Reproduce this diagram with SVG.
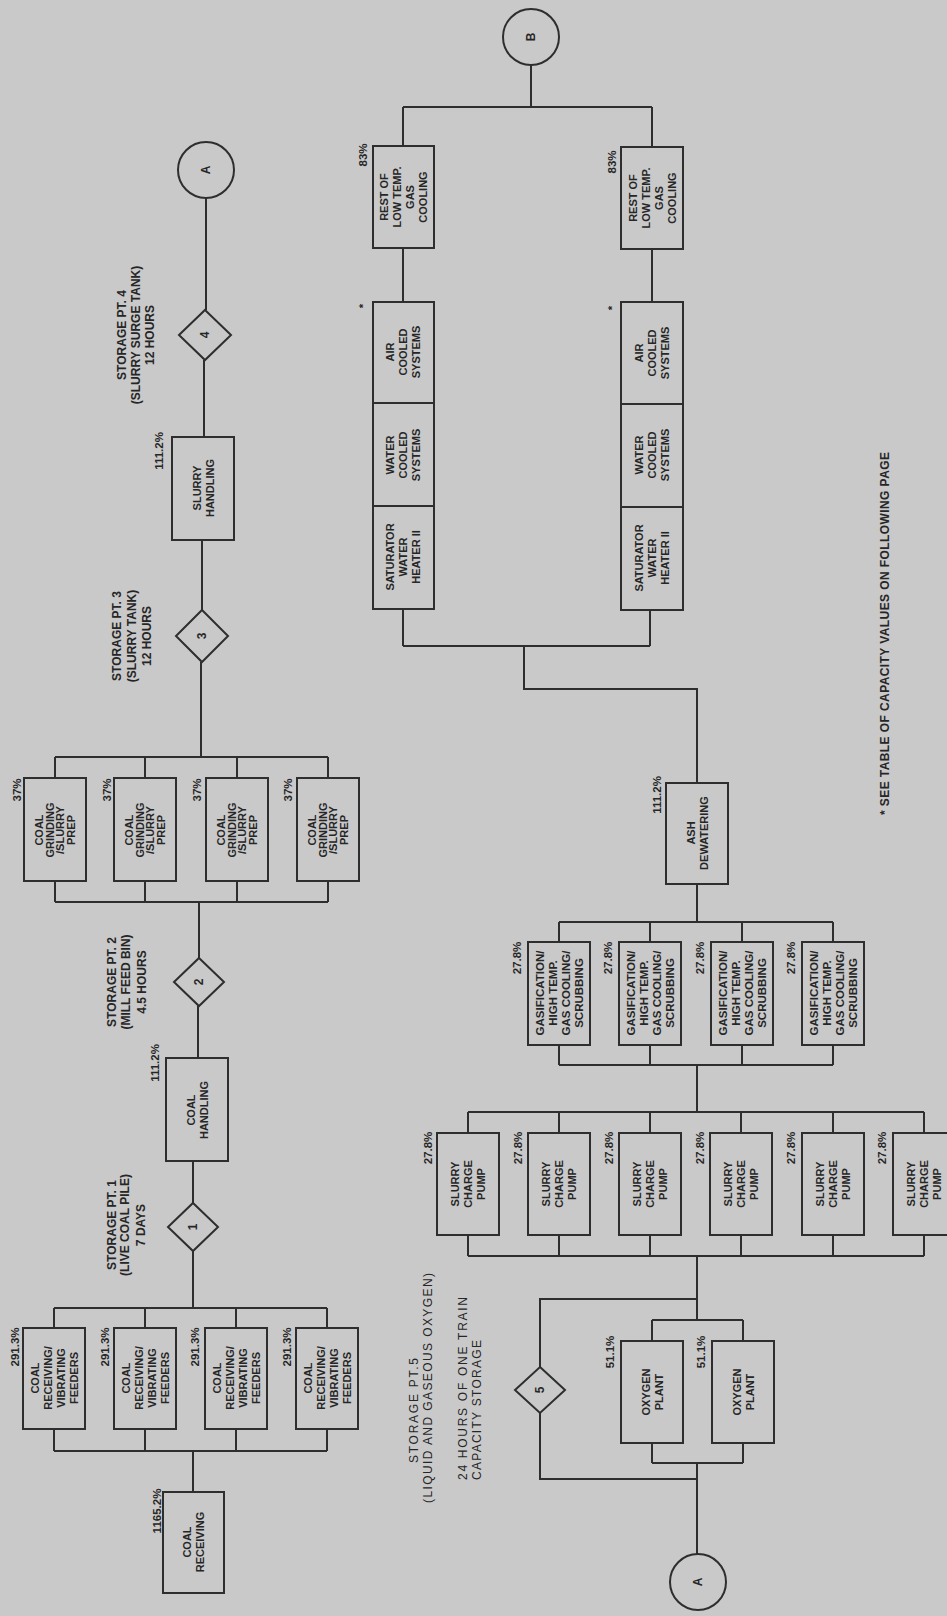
<svg xmlns="http://www.w3.org/2000/svg" width="947" height="1616" viewBox="0 0 947 1616">
<defs>
<style>
.bg{fill:#c9c9c9}
.box{fill:none;stroke:#2e2e2e;stroke-width:2}
.ln{fill:none;stroke:#2e2e2e;stroke-width:2}
text{font-family:"Liberation Sans",Arial,sans-serif;fill:#262626;text-anchor:middle;dominant-baseline:central;font-weight:bold}
.lb{font-size:11px}
.sm{font-size:11px}
.gs{font-size:11.5px}
.pc{font-size:11.5px}
.st{font-size:12px}
.ft{font-size:12px;text-anchor:start}
.lt{font-weight:normal}
.cn{font-size:12px}
</style>
</defs>
<rect class="bg" x="0" y="0" width="947" height="1616"/>

<g id="connectors">
<path class="ln" d="M193 1492V1451M54 1451H327M54 1429V1451M145 1429V1451M236 1429V1451M327 1429V1451"/>
<path class="ln" d="M54 1308H327M54 1328V1308M145 1328V1308M236 1328V1308M327 1328V1308M193 1308V1251"/>
<path class="ln" d="M193 1203V1161M198 1058V1006M199 958V902"/>
<path class="ln" d="M55 902H328M55 881V902M145 881V902M237 881V902M328 881V902"/>
<path class="ln" d="M55 757H328M55 778V757M145 778V757M237 778V757M328 778V757M201 757V662"/>
<path class="ln" d="M202 610V540M204 437V360M206 310V198"/>
<path class="ln" d="M531 65V107M403 107H652M403 107V146M652 107V147M403 248V302M652 249V302"/>
<path class="ln" d="M403 609V646M650 610V646M403 646H650M524 646V689H697V783"/>
<path class="ln" d="M697 884V922M559 922H833M559 922V942M650 922V942M742 922V942M833 922V942"/>
<path class="ln" d="M559 1065H833M559 1045V1065M650 1045V1065M742 1045V1065M833 1045V1065M697 1065V1112"/>
<path class="ln" d="M468 1112H924M468 1112V1133M559 1112V1133M650 1112V1133M741 1112V1133M833 1112V1133M924 1112V1133"/>
<path class="ln" d="M468 1256H924M468 1235V1256M559 1235V1256M650 1235V1256M741 1235V1256M833 1235V1256M924 1235V1256M697 1256V1320"/>
<path class="ln" d="M652 1320H743M652 1320V1341M743 1320V1341M652 1443V1463M743 1443V1463M652 1463H743M697 1463V1554"/>
<path class="ln" d="M697 1299H540V1367M540 1413V1479H697"/>
</g>

<g id="coal-receiving">
<rect class="box" x="163" y="1492" width="61" height="101"/>
<text class="lb" transform="translate(193.5,1542) rotate(-90)"><tspan x="0" y="-6.5">COAL</tspan><tspan x="0" y="6.5">RECEIVING</tspan></text>
<text class="pc" transform="translate(157,1511) rotate(-90)">1165.2%</text>
</g>

<g id="feeder-1">
<rect class="box" x="23" y="1328" width="62" height="101"/>
<text class="lb" transform="translate(54,1378) rotate(-90)"><tspan x="0" y="-19.5">COAL</tspan><tspan x="0" y="-6.5">RECEIVING/</tspan><tspan x="0" y="6.5">VIBRATING</tspan><tspan x="0" y="19.5">FEEDERS</tspan></text>
<text class="pc" transform="translate(15,1347) rotate(-90)">291.3%</text>
</g>
<g id="feeder-2">
<rect class="box" x="114" y="1328" width="62" height="101"/>
<text class="lb" transform="translate(145,1378) rotate(-90)"><tspan x="0" y="-19.5">COAL</tspan><tspan x="0" y="-6.5">RECEIVING/</tspan><tspan x="0" y="6.5">VIBRATING</tspan><tspan x="0" y="19.5">FEEDERS</tspan></text>
<text class="pc" transform="translate(105,1347) rotate(-90)">291.3%</text>
</g>
<g id="feeder-3">
<rect class="box" x="205" y="1328" width="62" height="101"/>
<text class="lb" transform="translate(236,1378) rotate(-90)"><tspan x="0" y="-19.5">COAL</tspan><tspan x="0" y="-6.5">RECEIVING/</tspan><tspan x="0" y="6.5">VIBRATING</tspan><tspan x="0" y="19.5">FEEDERS</tspan></text>
<text class="pc" transform="translate(195,1347) rotate(-90)">291.3%</text>
</g>
<g id="feeder-4">
<rect class="box" x="296" y="1328" width="62" height="101"/>
<text class="lb" transform="translate(327,1378) rotate(-90)"><tspan x="0" y="-19.5">COAL</tspan><tspan x="0" y="-6.5">RECEIVING/</tspan><tspan x="0" y="6.5">VIBRATING</tspan><tspan x="0" y="19.5">FEEDERS</tspan></text>
<text class="pc" transform="translate(287,1347) rotate(-90)">291.3%</text>
</g>

<g id="storage-1">
<polygon class="box" points="193,1203 218,1227 193,1251 168,1227"/>
<text class="cn" transform="translate(193,1227) rotate(-90)">1</text>
<text class="st" transform="translate(112,1225) rotate(-90)">STORAGE PT. 1</text>
<text class="st" transform="translate(125,1225) rotate(-90)">(LIVE COAL PILE)</text>
<text class="st" transform="translate(141,1225) rotate(-90)">7 DAYS</text>
</g>

<g id="coal-handling">
<rect class="box" x="166" y="1058" width="62" height="103"/>
<text class="lb" transform="translate(197,1110) rotate(-90)"><tspan x="0" y="-6.5">COAL</tspan><tspan x="0" y="6.5">HANDLING</tspan></text>
<text class="pc" transform="translate(155,1063) rotate(-90)">111.2%</text>
</g>

<g id="storage-2">
<polygon class="box" points="199,958 224,982 199,1006 174,982"/>
<text class="cn" transform="translate(199,982) rotate(-90)">2</text>
<text class="st" transform="translate(112,982) rotate(-90)">STORAGE PT. 2</text>
<text class="st" transform="translate(126,982) rotate(-90)">(MILL FEED BIN)</text>
<text class="st" transform="translate(142,982) rotate(-90)">4.5 HOURS</text>
</g>

<g id="grinding-1">
<rect class="box" x="24" y="778" width="62" height="103"/>
<text class="sm" transform="translate(55,830) rotate(-90)"><tspan x="0" y="-15.75">COAL</tspan><tspan x="0" y="-5.25">GRINDING</tspan><tspan x="0" y="5.25">/SLURRY</tspan><tspan x="0" y="15.75">PREP</tspan></text>
<text class="pc" transform="translate(17,790) rotate(-90)">37%</text>
</g>
<g id="grinding-2">
<rect class="box" x="114" y="778" width="62" height="103"/>
<text class="sm" transform="translate(145,830) rotate(-90)"><tspan x="0" y="-15.75">COAL</tspan><tspan x="0" y="-5.25">GRINDING</tspan><tspan x="0" y="5.25">/SLURRY</tspan><tspan x="0" y="15.75">PREP</tspan></text>
<text class="pc" transform="translate(107,790) rotate(-90)">37%</text>
</g>
<g id="grinding-3">
<rect class="box" x="206" y="778" width="62" height="103"/>
<text class="sm" transform="translate(237,830) rotate(-90)"><tspan x="0" y="-15.75">COAL</tspan><tspan x="0" y="-5.25">GRINDING</tspan><tspan x="0" y="5.25">/SLURRY</tspan><tspan x="0" y="15.75">PREP</tspan></text>
<text class="pc" transform="translate(197,790) rotate(-90)">37%</text>
</g>
<g id="grinding-4">
<rect class="box" x="297" y="778" width="62" height="103"/>
<text class="sm" transform="translate(328,830) rotate(-90)"><tspan x="0" y="-15.75">COAL</tspan><tspan x="0" y="-5.25">GRINDING</tspan><tspan x="0" y="5.25">/SLURRY</tspan><tspan x="0" y="15.75">PREP</tspan></text>
<text class="pc" transform="translate(288,790) rotate(-90)">37%</text>
</g>

<g id="storage-3">
<polygon class="box" points="202,610 228,636 202,662 176,636"/>
<text class="cn" transform="translate(202,636) rotate(-90)">3</text>
<text class="st" transform="translate(117,636) rotate(-90)">STORAGE PT. 3</text>
<text class="st" transform="translate(132,636) rotate(-90)">(SLURRY TANK)</text>
<text class="st" transform="translate(147,636) rotate(-90)">12 HOURS</text>
</g>

<g id="slurry-handling">
<rect class="box" x="172" y="437" width="62" height="103"/>
<text class="lb" transform="translate(203,488) rotate(-90)"><tspan x="0" y="-6.5">SLURRY</tspan><tspan x="0" y="6.5">HANDLING</tspan></text>
<text class="pc" transform="translate(159,451) rotate(-90)">111.2%</text>
</g>

<g id="storage-4">
<polygon class="box" points="205,310 231,335 205,360 179,335"/>
<text class="cn" transform="translate(205,335) rotate(-90)">4</text>
<text class="st" transform="translate(122,335) rotate(-90)">STORAGE PT. 4</text>
<text class="st" transform="translate(136,335) rotate(-90)">(SLURRY SURGE TANK)</text>
<text class="st" transform="translate(150,335) rotate(-90)">12 HOURS</text>
</g>

<g id="connector-a-top">
<circle class="box" cx="206" cy="170" r="28"/>
<text class="cn" transform="translate(206,170) rotate(-90)">A</text>
</g>

<g id="connector-b">
<circle class="box" cx="531" cy="37" r="28"/>
<text class="cn" transform="translate(531,37) rotate(-90)">B</text>
</g>

<g id="rest-cooling-1">
<rect class="box" x="373" y="146" width="61" height="102"/>
<text class="lb" transform="translate(403,197) rotate(-90)"><tspan x="0" y="-19.5">REST OF</tspan><tspan x="0" y="-6.5">LOW TEMP.</tspan><tspan x="0" y="6.5">GAS</tspan><tspan x="0" y="19.5">COOLING</tspan></text>
<text class="pc" transform="translate(363,155) rotate(-90)">83%</text>
</g>
<g id="air-cooled-1">
<rect class="box" x="373" y="302" width="61" height="101"/>
<text class="lb" transform="translate(403,352) rotate(-90)"><tspan x="0" y="-13">AIR</tspan><tspan x="0" y="0">COOLED</tspan><tspan x="0" y="13">SYSTEMS</tspan></text>
<text class="pc" transform="translate(363,306) rotate(-90)">*</text>
</g>
<g id="water-cooled-1">
<rect class="box" x="373" y="403" width="61" height="103"/>
<text class="lb" transform="translate(403,455) rotate(-90)"><tspan x="0" y="-13">WATER</tspan><tspan x="0" y="0">COOLED</tspan><tspan x="0" y="13">SYSTEMS</tspan></text>
</g>
<g id="saturator-1">
<rect class="box" x="373" y="506" width="61" height="103"/>
<text class="lb" transform="translate(403,557) rotate(-90)"><tspan x="0" y="-13">SATURATOR</tspan><tspan x="0" y="0">WATER</tspan><tspan x="0" y="13">HEATER II</tspan></text>
</g>

<g id="rest-cooling-2">
<rect class="box" x="621" y="147" width="62" height="102"/>
<text class="lb" transform="translate(652,198) rotate(-90)"><tspan x="0" y="-19.5">REST OF</tspan><tspan x="0" y="-6.5">LOW TEMP.</tspan><tspan x="0" y="6.5">GAS</tspan><tspan x="0" y="19.5">COOLING</tspan></text>
<text class="pc" transform="translate(612,162) rotate(-90)">83%</text>
</g>
<g id="air-cooled-2">
<rect class="box" x="621" y="302" width="62" height="102"/>
<text class="lb" transform="translate(652,353) rotate(-90)"><tspan x="0" y="-13">AIR</tspan><tspan x="0" y="0">COOLED</tspan><tspan x="0" y="13">SYSTEMS</tspan></text>
<text class="pc" transform="translate(612,308) rotate(-90)">*</text>
</g>
<g id="water-cooled-2">
<rect class="box" x="621" y="404" width="62" height="103"/>
<text class="lb" transform="translate(652,455) rotate(-90)"><tspan x="0" y="-13">WATER</tspan><tspan x="0" y="0">COOLED</tspan><tspan x="0" y="13">SYSTEMS</tspan></text>
</g>
<g id="saturator-2">
<rect class="box" x="621" y="507" width="62" height="103"/>
<text class="lb" transform="translate(652,558) rotate(-90)"><tspan x="0" y="-13">SATURATOR</tspan><tspan x="0" y="0">WATER</tspan><tspan x="0" y="13">HEATER II</tspan></text>
</g>

<g id="ash-dewatering">
<rect class="box" x="666" y="783" width="62" height="101"/>
<text class="lb" transform="translate(697,833) rotate(-90)"><tspan x="0" y="-6.5">ASH</tspan><tspan x="0" y="6.5">DEWATERING</tspan></text>
<text class="pc" transform="translate(657,795) rotate(-90)">111.2%</text>
</g>

<g id="gasification-1">
<rect class="box" x="528" y="942" width="62" height="103"/>
<text class="gs" transform="translate(559,993) rotate(-90)"><tspan x="0" y="-19.5">GASIFICATION/</tspan><tspan x="0" y="-6.5">HIGH TEMP.</tspan><tspan x="0" y="6.5">GAS COOLING/</tspan><tspan x="0" y="19.5">SCRUBBING</tspan></text>
<text class="pc" transform="translate(517,958) rotate(-90)">27.8%</text>
</g>
<g id="gasification-2">
<rect class="box" x="619" y="942" width="62" height="103"/>
<text class="gs" transform="translate(650,993) rotate(-90)"><tspan x="0" y="-19.5">GASIFICATION/</tspan><tspan x="0" y="-6.5">HIGH TEMP.</tspan><tspan x="0" y="6.5">GAS COOLING/</tspan><tspan x="0" y="19.5">SCRUBBING</tspan></text>
<text class="pc" transform="translate(608,958) rotate(-90)">27.8%</text>
</g>
<g id="gasification-3">
<rect class="box" x="711" y="942" width="62" height="103"/>
<text class="gs" transform="translate(742,993) rotate(-90)"><tspan x="0" y="-19.5">GASIFICATION/</tspan><tspan x="0" y="-6.5">HIGH TEMP.</tspan><tspan x="0" y="6.5">GAS COOLING/</tspan><tspan x="0" y="19.5">SCRUBBING</tspan></text>
<text class="pc" transform="translate(700,958) rotate(-90)">27.8%</text>
</g>
<g id="gasification-4">
<rect class="box" x="802" y="942" width="62" height="103"/>
<text class="gs" transform="translate(833,993) rotate(-90)"><tspan x="0" y="-19.5">GASIFICATION/</tspan><tspan x="0" y="-6.5">HIGH TEMP.</tspan><tspan x="0" y="6.5">GAS COOLING/</tspan><tspan x="0" y="19.5">SCRUBBING</tspan></text>
<text class="pc" transform="translate(791,958) rotate(-90)">27.8%</text>
</g>

<g id="pump-1">
<rect class="box" x="437" y="1133" width="62" height="102"/>
<text class="lb" transform="translate(468,1184) rotate(-90)"><tspan x="0" y="-13">SLURRY</tspan><tspan x="0" y="0">CHARGE</tspan><tspan x="0" y="13">PUMP</tspan></text>
<text class="pc" transform="translate(428,1148) rotate(-90)">27.8%</text>
</g>
<g id="pump-2">
<rect class="box" x="528" y="1133" width="62" height="102"/>
<text class="lb" transform="translate(559,1184) rotate(-90)"><tspan x="0" y="-13">SLURRY</tspan><tspan x="0" y="0">CHARGE</tspan><tspan x="0" y="13">PUMP</tspan></text>
<text class="pc" transform="translate(518,1148) rotate(-90)">27.8%</text>
</g>
<g id="pump-3">
<rect class="box" x="619" y="1133" width="62" height="102"/>
<text class="lb" transform="translate(650,1184) rotate(-90)"><tspan x="0" y="-13">SLURRY</tspan><tspan x="0" y="0">CHARGE</tspan><tspan x="0" y="13">PUMP</tspan></text>
<text class="pc" transform="translate(609,1148) rotate(-90)">27.8%</text>
</g>
<g id="pump-4">
<rect class="box" x="710" y="1133" width="62" height="102"/>
<text class="lb" transform="translate(741,1184) rotate(-90)"><tspan x="0" y="-13">SLURRY</tspan><tspan x="0" y="0">CHARGE</tspan><tspan x="0" y="13">PUMP</tspan></text>
<text class="pc" transform="translate(700,1148) rotate(-90)">27.8%</text>
</g>
<g id="pump-5">
<rect class="box" x="802" y="1133" width="62" height="102"/>
<text class="lb" transform="translate(833,1184) rotate(-90)"><tspan x="0" y="-13">SLURRY</tspan><tspan x="0" y="0">CHARGE</tspan><tspan x="0" y="13">PUMP</tspan></text>
<text class="pc" transform="translate(791,1148) rotate(-90)">27.8%</text>
</g>
<g id="pump-6">
<rect class="box" x="893" y="1133" width="62" height="102"/>
<text class="lb" transform="translate(924,1184) rotate(-90)"><tspan x="0" y="-13">SLURRY</tspan><tspan x="0" y="0">CHARGE</tspan><tspan x="0" y="13">PUMP</tspan></text>
<text class="pc" transform="translate(882,1148) rotate(-90)">27.8%</text>
</g>

<g id="storage-5">
<polygon class="box" points="540,1367 565,1390 540,1413 515,1390"/>
<text class="cn" transform="translate(540,1390) rotate(-90)">5</text>
<text class="ft lt" transform="translate(414,1463) rotate(-90)" textLength="105" lengthAdjust="spacing">STORAGE PT.5</text>
<text class="ft lt" transform="translate(428,1503) rotate(-90)" textLength="230" lengthAdjust="spacing">(LIQUID AND GASEOUS OXYGEN)</text>
<text class="ft lt" transform="translate(463,1480) rotate(-90)" textLength="183" lengthAdjust="spacing">24 HOURS OF ONE TRAIN</text>
<text class="ft lt" transform="translate(477,1480) rotate(-90)" textLength="140" lengthAdjust="spacing">CAPACITY STORAGE</text>
</g>

<g id="oxygen-1">
<rect class="box" x="621" y="1341" width="62" height="102"/>
<text class="lb" transform="translate(652,1392) rotate(-90)"><tspan x="0" y="-6.5">OXYGEN</tspan><tspan x="0" y="6.5">PLANT</tspan></text>
<text class="pc" transform="translate(610,1352) rotate(-90)">51.1%</text>
</g>
<g id="oxygen-2">
<rect class="box" x="712" y="1341" width="62" height="102"/>
<text class="lb" transform="translate(743,1392) rotate(-90)"><tspan x="0" y="-6.5">OXYGEN</tspan><tspan x="0" y="6.5">PLANT</tspan></text>
<text class="pc" transform="translate(701,1352) rotate(-90)">51.1%</text>
</g>

<g id="connector-a-bottom">
<circle class="box" cx="698" cy="1582" r="28"/>
<text class="cn" transform="translate(698,1582) rotate(-90)">A</text>
</g>

<g id="footnote">
<text class="ft" transform="translate(885,815) rotate(-90)" textLength="363" lengthAdjust="spacing">* SEE TABLE OF CAPACITY VALUES ON FOLLOWING PAGE</text>
</g>
</svg>
